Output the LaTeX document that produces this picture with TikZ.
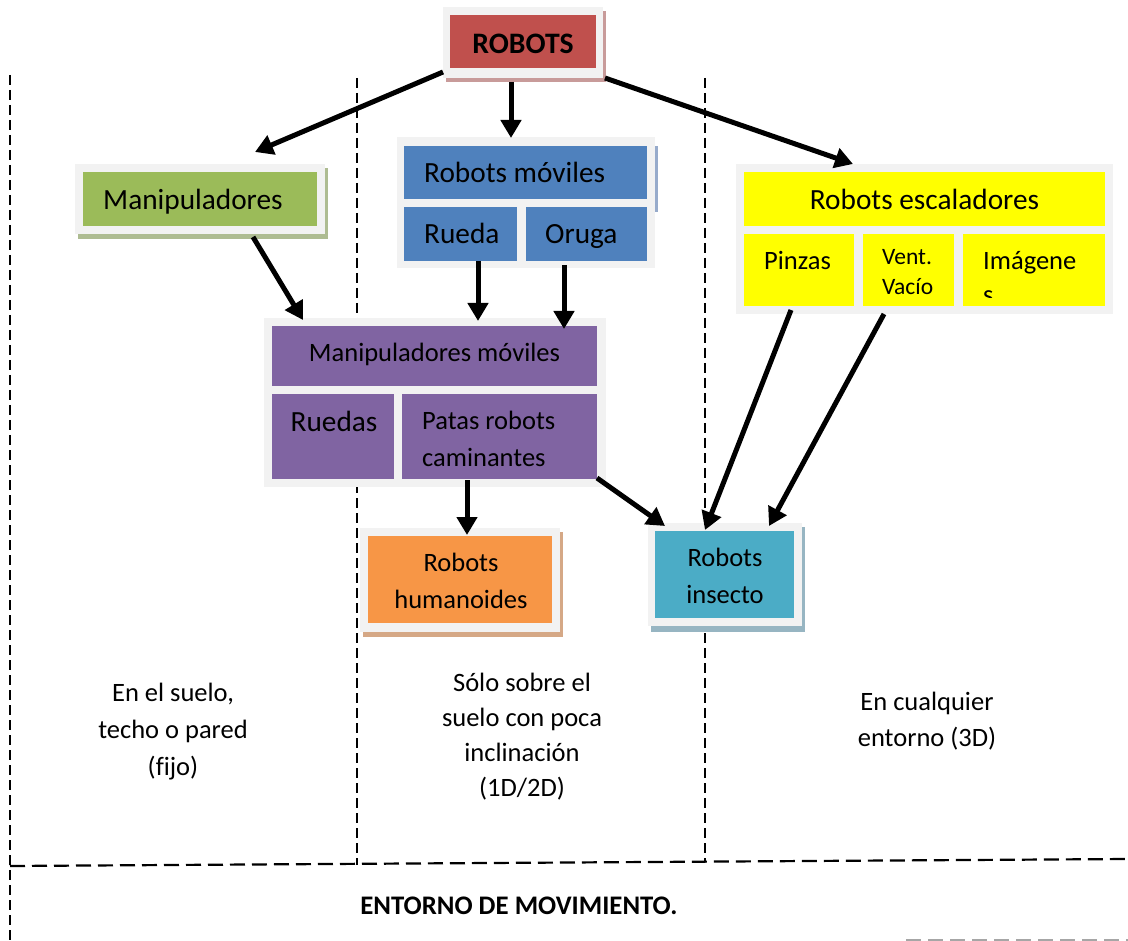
\documentclass[tikz,border=0pt]{standalone}
\usepackage{fontspec}
\setmainfont{Carlito}[Ligatures=NoCommon]
\usetikzlibrary{arrows.meta,calc,fit}
\definecolor{cRed}{HTML}{C0504D}
\definecolor{cBlue}{HTML}{4F81BD}
\definecolor{cGreen}{HTML}{9BBB59}
\definecolor{cPurple}{HTML}{8064A2}
\definecolor{cYellow}{HTML}{FFFF00}
\definecolor{cOrange}{HTML}{F79646}
\definecolor{cTeal}{HTML}{4BACC6}
\definecolor{cFrame}{HTML}{F2F2F2}
\definecolor{shRed}{HTML}{C89B9A}
\definecolor{shBlue}{HTML}{97ABCB}
\definecolor{shGreen}{HTML}{AEBC92}
\definecolor{shOrange}{HTML}{D5A886}
\definecolor{shTeal}{HTML}{97B5C2}
\begin{document}
\begin{tikzpicture}[x=1pt,y=-1pt,
  frame/.style={fill=cFrame, inner sep=0pt, outer sep=0pt},
  cbox/.style={inner sep=0pt, outer sep=0pt},
  big/.style={font=\fontsize{29.3}{35}\selectfont, inner sep=0pt},
  norm/.style={font=\fontsize{26.5}{36}\selectfont, align=center, inner sep=0pt},
  conn/.style={line width=5pt, -{Triangle[length=18pt,width=20pt]}},
  vdash/.style={line width=1.3pt, dash pattern=on 10pt off 5pt},
  hdash/.style={line width=2.2pt, dash pattern=on 15pt off 7pt}]
\useasboundingbox (0,0) rectangle (1128,941);
\fill[white] (0,0) rectangle (1128,941);

% dashed region lines
\draw[vdash] (10,75) -- (10,941);
\draw[vdash] (357,78) -- (357,865);
\draw[vdash] (705,78) -- (705,862);
\draw[hdash] (10,866) -- (1128,859);
\draw[hdash, gray!70] (906,940) -- (1128,940);

% ROBOTS
\node[cbox, fill=shRed, fit={(446,11)(606,82)}] (robotsS) {};
\node[frame, fit={(443,7)(603,78)}] (robotsF) {};
\node[cbox, fill=cRed, fit={(450,15)(596,68)}] (robots) {};
\node[big, anchor=base, font=\fontsize{29.7}{35}\selectfont\bfseries] (robotsT) at (523,53.3) {ROBOTS};

% Robots moviles
\node[frame, fit={(397,137)(655,268)}] (movF) {};
\node[cbox, fill=shBlue, fit={(655,146)(658,212)}] (movS) {};
\node[cbox, fill=cBlue, fit={(404,146)(647,199)}] (mov) {};
\node[cbox, fill=cBlue, fit={(404,207)(517,261)}] (rueda) {};
\node[cbox, fill=cBlue, fit={(526,207)(647,261)}] (oruga) {};
\node[big, anchor=base west] (movT) at (424,182.7) {Robots móviles};
\node[big, anchor=base west] (ruedaT) at (424,244) {Rueda};
\node[big, anchor=base west] (orugaT) at (545,244) {Oruga};

% Manipuladores
\node[cbox, fill=shGreen, fit={(78,168)(328,239)}] (manipS) {};
\node[frame, fit={(75,164)(325,234)}] (manipF) {};
\node[cbox, fill=cGreen, fit={(83,172)(317,226)}] (manip) {};
\node[big, anchor=base west] (manipT) at (103,210) {Manipuladores};

% Robots escaladores
\node[frame, fit={(736,164)(1113,314)}] (escF) {};
\node[cbox, fill=cYellow, fit={(744,172)(1105,226)}] (esc) {};
\node[cbox, fill=cYellow, fit={(744,234)(854,306)}] (pinzas) {};
\node[cbox, fill=cYellow, fit={(863,234)(954,306)}] (vent) {};
\node[cbox, fill=cYellow, fit={(963,234)(1105,306)}] (imag) {};
\node[big, anchor=base] (escT) at (924.5,210) {Robots escaladores};
\node[norm, anchor=base west] (pinzasT) at (764,269.3) {Pinzas};
\node[anchor=base west, inner sep=0pt, font=\fontsize{23.5}{30}\selectfont, align=left] (ventT) at (882,295) {Vent.\\Vacío};
\node[norm, anchor=base west] (imagT) at (983,269.3) {Imágene};
\begin{scope}
  \clip (963,234) rectangle (1105,298);
  \node[norm, anchor=base west] (imagS) at (983,304) {s};
\end{scope}

% Manipuladores moviles
\node[frame, fit={(264,318)(606,487)}] (mmF) {};
\node[cbox, fill=cPurple, fit={(272,326)(597,386)}] (mm) {};
\node[cbox, fill=cPurple, fit={(272,394)(394,479)}] (ruedas) {};
\node[cbox, fill=cPurple, fit={(402,394)(597,479)}] (patas) {};
\node[norm, anchor=base] (mmT) at (434.5,361.7) {Manipuladores móviles};
\node[big, anchor=base] (ruedasT) at (334,431.7) {Ruedas};
\node[norm, anchor=base west, align=left, font=\fontsize{26.5}{37.7}\selectfont] (patasT) at (422,466.7) {Patas robots\\caminantes};

% Robots humanoides
\node[cbox, fill=shOrange, fit={(363,532)(563,637)}] (humS) {};
\node[frame, fit={(360,528)(560,632)}] (humF) {};
\node[cbox, fill=cOrange, fit={(368,536)(552,623)}] (hum) {};
\node[norm, anchor=base, font=\fontsize{26.5}{37.3}\selectfont] (humT) at (461,608.3) {Robots\\humanoides};

% Robots insecto
\node[cbox, fill=shTeal, fit={(651,527)(805,632)}] (insS) {};
\node[frame, fit={(648,523)(802,626)}] (insF) {};
\node[cbox, fill=cTeal, fit={(655,531)(794,618)}] (ins) {};
\node[norm, anchor=base, font=\fontsize{26.5}{37.3}\selectfont] (insT) at (725,603.3) {Robots\\insecto};

% connectors
\draw[conn] ($(robotsF.south west)+(0,-6)$) -- ($(manipF.north east)+(-70,-12)$);
\draw[conn] ($(robotsF.south)+(-12,4)$) -- ($(movF.north)+(-15,1)$);
\draw[conn] ($(robotsF.south east)+(2,0)$) -- ($(escF.north west)+(117,0)$);
\draw[conn] ($(manipF.south)+(53,3)$) -- ($(mmF.north west)+(39,2)$);
\draw[conn] ($(rueda.south)+(17.5,0)$) -- ($(mmF.north)+(43,3)$);
\draw[conn] ($(oruga.south)+(-22.5,4)$) -- ($(mm.north)+(129.5,3)$);
\draw[conn] ($(patas.south)+(-32.5,1)$) -- ($(humF.north)+(7,7)$);
\draw[conn] ($(patas.south east)+(0,-1)$) -- ($(insF.north west)+(17,3)$);
\draw[conn] ($(pinzas.south)+(-8,4)$) -- ($(insF.north)+(-20,7)$);
\draw[conn] ($(vent.south)+(-24.5,8)$) -- ($(insF.north east)+(-33,3)$);

% region texts
\node[norm, anchor=base, font=\fontsize{26.5}{37}\selectfont] (fijoT) at (173,775.7) {En el suelo,\\techo o pared\\(fijo)};
\node[norm, anchor=base, font=\fontsize{26.5}{35}\selectfont] (sueloT) at (522,796.7) {Sólo sobre el\\suelo con poca\\inclinación\\(1D/2D)};
\node[norm, anchor=base] (tresT) at (927,746) {En cualquier\\entorno (3D)};
\node[anchor=base, inner sep=0pt, font=\fontsize{26.8}{32}\selectfont\bfseries] (entT) at (519,914) {ENTORNO DE MOVIMIENTO.};
\end{tikzpicture}
\end{document}
